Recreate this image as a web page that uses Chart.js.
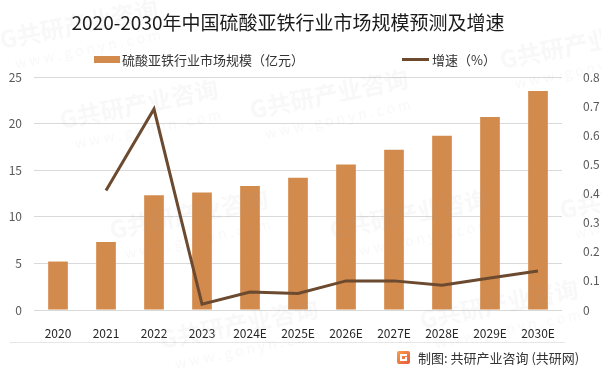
<!DOCTYPE html>
<html>
<head>
<meta charset="utf-8">
<script src="https://cdn.jsdelivr.net/npm/chart.js@4.4.0/dist/chart.umd.min.js"></script>
<style>
  html, body { margin: 0; padding: 0; background: #fff; }
  #wrap { width: 601px; height: 375px; position: relative; }
</style>
</head>
<body>
<div id="wrap"><canvas id="chart" width="601" height="375"></canvas></div>
<script>
const years = ["2020", "2021", "2022", "2023", "2024E", "2025E", "2026E", "2027E", "2028E", "2029E", "2030E"];
const marketSize = [5.2, 7.3, 12.3, 12.6, 13.3, 14.2, 15.6, 17.2, 18.7, 20.7, 23.5];
const growthRate = [null, 0.41, 0.69, 0.02, 0.062, 0.057, 0.10, 0.10, 0.085, 0.11, 0.134];
const leftTicks = [0, 5, 10, 15, 20, 25];
const rightTicks = [0, 0.1, 0.2, 0.3, 0.4, 0.5, 0.6, 0.7, 0.8];

const barColor = "#d38b4d";
const lineColor = "#6b4a2f";
const fontFam = "'Noto Sans CJK SC', 'Noto Sans', sans-serif";

// title, legend, source note, watermark
const decor = {
  id: "decor",
  beforeDraw(chart) {
    const ctx = chart.ctx;
    ctx.save();
    ctx.fillStyle = "#fff";
    ctx.fillRect(0, 0, chart.width, chart.height);
    ctx.restore();
  },
  afterDraw(chart) {
    const ctx = chart.ctx;
    ctx.save();
    // title
    ctx.fillStyle = "#1a1a1a";
    ctx.font = "19px " + fontFam;
    ctx.textAlign = "center";
    ctx.textBaseline = "middle";
    ctx.fillText("2020-2030年中国硫酸亚铁行业市场规模预测及增速", 288, 23);

    // legend
    ctx.font = "13px " + fontFam;
    ctx.textAlign = "left";
    ctx.fillStyle = barColor;
    ctx.fillRect(94, 56, 26, 7);
    ctx.fillStyle = "#333";
    ctx.fillText("硫酸亚铁行业市场规模（亿元）", 122, 60);
    ctx.strokeStyle = lineColor;
    ctx.lineWidth = 3;
    ctx.beginPath();
    ctx.moveTo(402, 59.5);
    ctx.lineTo(429, 59.5);
    ctx.stroke();
    ctx.fillText("增速（%）", 432, 60);

    // separator
    ctx.strokeStyle = "#e6e6e6";
    ctx.lineWidth = 1;
    ctx.beginPath();
    ctx.moveTo(10, 342.5);
    ctx.lineTo(565, 342.5);
    ctx.stroke();

    // source logo
    const g = ctx.createLinearGradient(397, 351, 410, 364);
    g.addColorStop(0, "#f6a04a");
    g.addColorStop(1, "#e8573a");
    ctx.fillStyle = g;
    ctx.beginPath();
    ctx.roundRect(397, 351, 13, 13, 2);
    ctx.fill();
    ctx.fillStyle = "#fff";
    ctx.fillRect(400, 354, 7, 2);
    ctx.fillRect(400, 354, 2, 7);
    ctx.fillRect(400, 359, 7, 2);
    ctx.fillRect(405, 357, 2, 4);

    ctx.fillStyle = "#333";
    ctx.font = "13px " + fontFam;
    ctx.fillText("制图: 共研产业咨询 (共研网)", 418, 358);

    // faint watermarks
    ctx.fillStyle = "rgba(160,160,160,0.07)";
    const marks = [[60, 120], [250, 110], [500, 60], [110, 230], [330, 230], [560, 210], [160, 340], [420, 320], [0, 40]];
    marks.forEach(([x, y]) => {
      ctx.save();
      ctx.translate(x, y);
      ctx.rotate(-0.2);
      ctx.font = "bold 24px " + fontFam;
      ctx.fillText("G共研产业咨询", 0, 0);
      ctx.font = "14px " + fontFam;
      ctx.fillText("w w w . g o n y n . c o m", 10, 26);
      ctx.restore();
    });
    ctx.restore();
  }
};

new Chart(document.getElementById("chart"), {
  data: {
    labels: years,
    datasets: [
      {
        type: "line",
        label: "增速（%）",
        data: growthRate,
        yAxisID: "y1",
        borderColor: lineColor,
        borderWidth: 3,
        pointRadius: 0,
        tension: 0,
        order: 0
      },
      {
        type: "bar",
        label: "硫酸亚铁行业市场规模（亿元）",
        data: marketSize,
        yAxisID: "y",
        backgroundColor: barColor,
        barPercentage: 0.41,
        categoryPercentage: 1,
        order: 1
      }
    ]
  },
  options: {
    responsive: false,
    animation: false,
    layout: { padding: { left: 0, right: 0, top: 77, bottom: 35 } },
    plugins: {
      legend: { display: false },
      title: { display: false },
      tooltip: { enabled: false }
    },
    scales: {
      x: {
        grid: { display: false },
        border: { display: false },
        ticks: { color: "#262626", font: { size: 12, family: fontFam }, padding: 8, maxRotation: 0 },
        afterFit(s) { s.height = 30; }
      },
      y: {
        position: "left",
        min: 0, max: 25,
        afterBuildTicks(s) { s.ticks = leftTicks.map(v => ({ value: v })); },
        grid: { color: "#d9d9d9", drawTicks: false },
        border: { display: false },
        ticks: { color: "#595959", font: { size: 12, family: fontFam }, padding: 12 },
        afterFit(s) { s.width = 34; }
      },
      y1: {
        position: "right",
        min: 0, max: 0.8,
        afterBuildTicks(s) { s.ticks = rightTicks.map(v => ({ value: v })); },
        grid: { display: false },
        border: { display: false },
        ticks: { color: "#595959", font: { size: 12, family: fontFam }, padding: 13 },
        afterFit(s) { s.width = 39; }
      }
    }
  },
  plugins: [decor]
});
</script>
</body>
</html>
